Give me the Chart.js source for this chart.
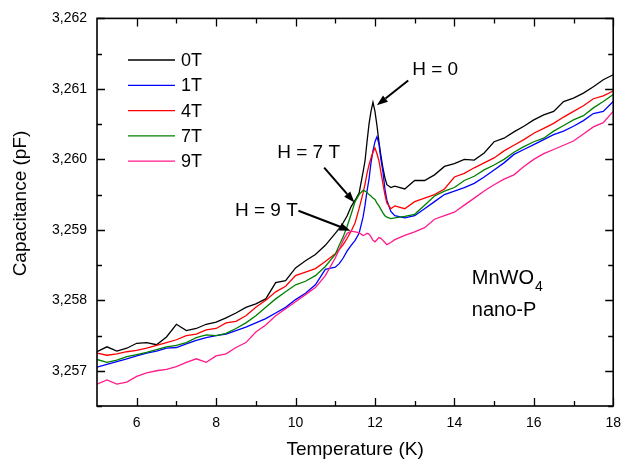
<!DOCTYPE html>
<html><head><meta charset="utf-8">
<script src="https://cdn.jsdelivr.net/npm/chart.js@4"></script>
<style>html,body{margin:0;padding:0;background:#fff}#wrap{width:630px;height:469px}</style>
</head><body><div id="wrap"><canvas id="c" width="630" height="469"></canvas></div>
<script>
const temperatures = [5,5.25,5.5,5.75,6,6.25,6.5,6.75,7,7.25,7.5,7.75,8,8.25,8.5,8.75,9,9.25,9.5,9.75,10,10.25,10.5,10.75,11,
  11.1,11.2,11.3,11.4,11.5,11.6,11.7,
  11.75,11.8,11.85,11.9,11.95,12,12.05,12.1,12.15,12.2,12.25,12.3,
  12.4,12.5,
  12.75,13,13.25,13.5,13.75,14,14.25,14.5,14.75,15,15.25,15.5,15.75,16,16.25,16.5,16.75,17,17.25,17.5,17.75,18];

const cap0T = [3.25727,3.25734,3.25728,3.25732,3.25739,3.25740,3.25737,3.25748,3.25766,3.25757,3.25760,3.25766,3.25769,3.25775,3.25782,3.25790,3.25795,3.25802,3.25825,3.25828,3.25846,3.25856,3.25865,3.25878,3.25895,
  3.25902,3.25910,3.25920,3.25933,3.25942,3.25952,3.25982,
  3.25998,3.26025,3.26050,3.26068,3.26081,3.26068,3.26048,3.26025,3.26005,3.25988,3.25974,3.25964,
  3.25960,3.25962,
  3.25958,3.25970,3.25970,3.25978,3.25990,3.25994,3.26000,3.25999,3.26009,3.26025,3.26030,3.26039,3.26047,3.26056,3.26063,3.26068,3.26082,3.26087,3.26094,3.26103,3.26113,3.26120];

const cap1T = [3.25705,3.25709,3.25713,3.25717,3.25721,3.25725,3.25728,3.25732,3.25733,3.25738,3.25743,3.25747,3.25750,3.25752,3.25757,3.25762,3.25768,3.25774,3.25782,3.25790,3.25801,3.25810,3.25822,3.25844,3.25847,
  3.25852,3.25860,3.25870,3.25878,3.25885,3.25895,3.25918,
  3.25935,3.25955,3.25972,3.25995,3.26012,3.26025,3.26032,3.26022,3.26000,3.25983,3.25958,3.25942,
  3.25926,3.25920,
  3.25917,3.25920,3.25930,3.25940,3.25950,3.25955,3.25960,3.25966,3.25975,3.25985,3.25995,3.26007,3.26014,3.26021,3.26028,3.26035,3.26040,3.26047,3.26055,3.26065,3.26068,3.26082];

const cap4T = [3.25725,3.25722,3.25724,3.25727,3.25729,3.25732,3.25736,3.25740,3.25744,3.25750,3.25752,3.25758,3.25760,3.25768,3.25770,3.25778,3.25790,3.25800,3.25812,3.25820,3.25835,3.25840,3.25845,3.25855,3.25866,
  3.25872,3.25879,3.25888,3.25898,3.25910,3.25930,3.25952,
  3.25965,3.25980,3.25992,3.26002,3.26010,3.26016,3.26008,3.25998,3.25982,3.25966,3.25950,3.25938,
  3.25930,3.25934,
  3.25930,3.25940,3.25945,3.25950,3.25958,3.25975,3.25980,3.25988,3.25995,3.26002,3.26012,3.26020,3.26028,3.26037,3.26044,3.26051,3.26060,3.26068,3.26076,3.26086,3.26090,3.26097];

const cap7T = [3.25716,3.25712,3.25715,3.25720,3.25723,3.25726,3.25730,3.25734,3.25736,3.25740,3.25747,3.25751,3.25750,3.25753,3.25760,3.25768,3.25778,3.25790,3.25802,3.25812,3.25822,3.25827,3.25835,3.25848,3.25865,
  3.25878,3.25890,3.25905,3.25922,3.25940,3.25950,3.25956,
  3.25955,3.25953,3.25950,3.25948,3.25945,3.25943,3.25938,3.25934,3.25929,3.25924,3.25920,3.25918,
  3.25916,3.25917,
  3.25919,3.25922,3.25935,3.25948,3.25955,3.25960,3.25970,3.25976,3.25985,3.25992,3.26000,3.26010,3.26018,3.26025,3.26030,3.26040,3.26048,3.26056,3.26062,3.26073,3.26082,3.26092];

const cap9T = [3.25681,3.25687,3.25681,3.25684,3.25692,3.25697,3.25700,3.25702,3.25706,3.25712,3.25717,3.25712,3.25721,3.25724,3.25733,3.25740,3.25755,3.25765,3.25778,3.25788,3.25798,3.25808,3.25818,3.25835,3.25860,
  3.25872,3.25885,3.25895,3.25898,3.25897,3.25896,3.25892,
  3.25893,3.25895,3.25894,3.25890,3.25885,3.25883,3.25886,3.25889,3.25888,3.25885,3.25882,3.25879,
  3.25882,3.25886,
  3.25892,3.25897,3.25903,3.25915,3.25920,3.25925,3.25935,3.25945,3.25955,3.25964,3.25972,3.25978,3.25990,3.26000,3.26008,3.26014,3.26020,3.26026,3.26036,3.26046,3.26052,3.26068];

const seriesLabels = ['0T','1T','4T','7T','9T'];
const seriesValues = [cap0T, cap1T, cap4T, cap7T, cap9T];
const seriesColors = ['#000000','#0000ff','#ff0000','#008000','#ff1a8c'];

const xTickValues = [6,8,10,12,14,16,18];
const xMinorValues = [7,9,11,13,15,17];
const yTickValues = [3.257,3.258,3.259,3.260,3.261,3.262];
const yMinorValues = [3.2565,3.2575,3.2585,3.2595,3.2605,3.2615];

const annotations = [
  {text:'H = 0',   tx:13.517, ty:3.261265, from:[12.837,3.261119], to:[12.048,3.260766]},
  {text:'H = 7 T', tx:10.329, ty:3.260091, from:[10.721,3.259883], to:[11.483,3.259389]},
  {text:'H = 9 T', tx:9.266,  ty:3.259271, from:[10.073,3.259271], to:[11.383,3.258988]}
];

const FONT = '"Liberation Sans", Arial, Helvetica, sans-serif';

const datasets = seriesLabels.map((lab, i) => ({
  label: lab,
  data: temperatures.map((t, k) => ({x: t, y: seriesValues[i][k]})),
  borderColor: seriesColors[i],
  backgroundColor: seriesColors[i],
  borderWidth: 1.3,
  pointRadius: 0,
  tension: 0,
  fill: false
})).reverse();

function arrow(ctx, x1, y1, x2, y2) {
  const ang = Math.atan2(y2 - y1, x2 - x1);
  const hl = 11, hw = 4;
  const bx = x2 - hl * Math.cos(ang), by = y2 - hl * Math.sin(ang);
  ctx.beginPath();
  ctx.moveTo(x1, y1); ctx.lineTo(bx, by);
  ctx.lineWidth = 2; ctx.strokeStyle = '#000'; ctx.stroke();
  ctx.beginPath();
  ctx.moveTo(x2, y2);
  ctx.lineTo(bx + hw * Math.sin(ang), by - hw * Math.cos(ang));
  ctx.lineTo(bx - hw * Math.sin(ang), by + hw * Math.cos(ang));
  ctx.closePath(); ctx.fillStyle = '#000'; ctx.fill();
}

const decor = {
  id: 'decor',
  afterDraw(chart) {
    const ctx = chart.ctx, a = chart.chartArea, xs = chart.scales.x, ys = chart.scales.y;
    ctx.save();
    ctx.strokeStyle = '#000'; ctx.lineWidth = 1.6;
    ctx.strokeRect(a.left, a.top, a.right - a.left, a.bottom - a.top);
    ctx.lineWidth = 1.3;
    ctx.beginPath();
    const xt = (vals, len) => vals.forEach(v => {
      const p = Math.round(xs.getPixelForValue(v)) + 0.5;
      ctx.moveTo(p, a.bottom); ctx.lineTo(p, a.bottom - len);
      ctx.moveTo(p, a.top); ctx.lineTo(p, a.top + len);
    });
    const yt = (vals, len) => vals.forEach(v => {
      const p = Math.round(ys.getPixelForValue(v)) + 0.5;
      ctx.moveTo(a.left, p); ctx.lineTo(a.left + len, p);
      ctx.moveTo(a.right, p); ctx.lineTo(a.right - len, p);
    });
    xt(xTickValues, 8); xt(xMinorValues, 5);
    yt(yTickValues, 8); yt(yMinorValues, 5);
    ctx.stroke();

    ctx.font = '18px ' + FONT; ctx.textBaseline = 'middle'; ctx.textAlign = 'left';
    seriesLabels.forEach((lab, i) => {
      const y = 60 + i * 25.3;
      ctx.beginPath(); ctx.moveTo(128, y); ctx.lineTo(175, y);
      ctx.strokeStyle = seriesColors[i]; ctx.lineWidth = 1.3; ctx.stroke();
      ctx.fillStyle = '#000'; ctx.fillText(lab, 181, y + 1);
    });

    ctx.font = '19px ' + FONT; ctx.textAlign = 'center'; ctx.fillStyle = '#000';
    annotations.forEach(an => {
      ctx.fillText(an.text, xs.getPixelForValue(an.tx), ys.getPixelForValue(an.ty));
      arrow(ctx, xs.getPixelForValue(an.from[0]), ys.getPixelForValue(an.from[1]),
                 xs.getPixelForValue(an.to[0]), ys.getPixelForValue(an.to[1]));
    });

    ctx.textAlign = 'left'; ctx.font = '20px ' + FONT;
    const mx = xs.getPixelForValue(14.439), my = ys.getPixelForValue(3.25831);
    ctx.fillText('MnWO', mx, my);
    const w = ctx.measureText('MnWO').width;
    ctx.font = '14px ' + FONT;
    ctx.fillText('4', mx + w + 1, my + 9);
    ctx.font = '20px ' + FONT;
    ctx.fillText('nano-P', mx, ys.getPixelForValue(3.257857));

    ctx.save();
    ctx.translate(21, 203.5); ctx.rotate(-Math.PI / 2);
    ctx.textAlign = 'center'; ctx.font = '19px ' + FONT;
    ctx.fillText('Capacitance (pF)', 0, 0);
    ctx.restore();
    ctx.restore();
  }
};

new Chart(document.getElementById('c'), {
  type: 'line',
  data: { datasets },
  options: {
    responsive: false, animation: false, devicePixelRatio: 1,
    layout: { padding: { top: 17, right: 11, left: 0, bottom: 0 } },
    plugins: { legend: { display: false }, tooltip: { enabled: false } },
    scales: {
      x: {
        type: 'linear', min: 5, max: 18,
        grid: { display: false, drawTicks: false },
        border: { display: false },
        afterFit: s => { s.height = 63; },
        afterBuildTicks: s => { s.ticks = xTickValues.map(v => ({ value: v })); },
        ticks: { autoSkip: false, maxRotation: 0, padding: 9, color: '#000', font: { family: FONT, size: 14 } },
        title: { display: true, text: 'Temperature (K)', color: '#000', font: { family: FONT, size: 19 }, padding: { top: 0, bottom: 8 } }
      },
      y: {
        type: 'linear', min: 3.2565, max: 3.262,
        grid: { display: false, drawTicks: false },
        border: { display: false },
        afterFit: s => { s.width = 97; },
        afterBuildTicks: s => { s.ticks = yTickValues.map(v => ({ value: v })); },
        ticks: { autoSkip: false, padding: 10, color: '#000', font: { family: FONT, size: 14 },
          callback: v => v.toFixed(3).replace('.', ',') }
      }
    }
  },
  plugins: [decor]
});
</script></body></html>
